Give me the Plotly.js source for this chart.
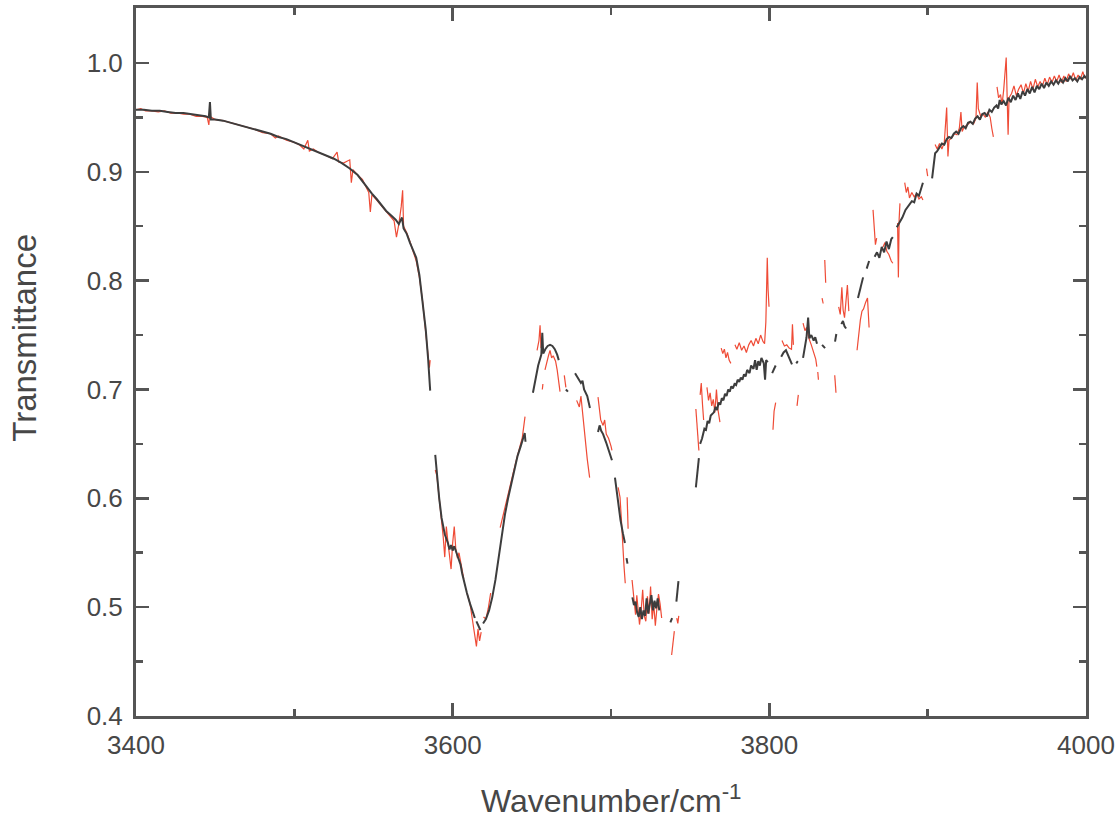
<!DOCTYPE html>
<html>
<head>
<meta charset="utf-8">
<script src="https://cdn.plot.ly/plotly-3.0.1.min.js"></script>
<style>html,body{margin:0;padding:0;background:#fff;}#chart{width:1120px;height:819px;}</style>
</head>
<body>
<div id="chart"></div>
<script>
// Reference spectrum (black): [wavenumber, transmittance]; null = gap
const blackPoints = [
[3400,0.957],[3405,0.957],[3410,0.956],[3415,0.956],[3420,0.955],[3425,0.954],[3430,0.954],[3435,0.953],[3440,0.952],[3444,0.951],[3446,0.950],[3446.7,0.964],[3447.3,0.948],[3450,0.948],[3455,0.947],[3460,0.945],[3465,0.943],[3470,0.941],[3475,0.939],[3480,0.937],[3485,0.935],[3490,0.932],[3495,0.930],[3500,0.927],[3505,0.924],[3510,0.921],[3515,0.918],[3520,0.915],[3525,0.912],[3530,0.908],[3535,0.903],[3540,0.897],[3543,0.891],[3546,0.886],[3549,0.880],[3552,0.875],[3555,0.869],[3558,0.864],[3561,0.860],[3564,0.856],[3566,0.852],[3568,0.858],[3569,0.848],[3571,0.843],[3573,0.835],[3575,0.828],[3577,0.821],[3579,0.805],[3581,0.782],[3583,0.755],[3584.5,0.728],[3585.8,0.699],
null,
[3589,0.640],[3590,0.622],[3591.5,0.600],[3593,0.582],[3595,0.567],[3597,0.559],[3598,0.553],[3599,0.557],[3600,0.552],[3601,0.556],[3603,0.548],[3605,0.539],[3606,0.531],[3607,0.524],[3609,0.513],[3611,0.503],[3613,0.494],[3614,0.490],
null,
[3615,0.487],[3616.5,0.482],[3617.5,0.479],
null,
[3619.2,0.485],[3621,0.489],[3623,0.497],[3625,0.509],[3627,0.525],[3629,0.545],[3631,0.567],[3633,0.585],[3635,0.600],[3637,0.614],[3639,0.627],[3641,0.639],[3643,0.648],[3644.5,0.656],[3645.5,0.660],[3646,0.652],
null,
[3650.7,0.697],[3652,0.708],[3654,0.722],[3656,0.732],[3656.6,0.752],[3657.2,0.733],[3658.5,0.737],[3660,0.740],[3661.5,0.741],[3663,0.740],[3664.5,0.737],[3666,0.732],[3667,0.727],
null,
[3671.5,0.700],[3672.8,0.698],
null,
[3677.3,0.715],[3679,0.711],[3681,0.706],[3682,0.708],[3683,0.700],[3685,0.694],[3686.7,0.683],
null,
[3691.8,0.661],[3692.8,0.667],[3693.8,0.662],[3695,0.659],[3697,0.651],[3699,0.643],[3700.6,0.635],
null,
[3702.5,0.619],[3704,0.602],[3706,0.580],[3707.5,0.568],[3708.8,0.559],
null,
[3709.8,0.545],[3710.4,0.540],
null,
[3713.5,0.509],[3714.5,0.502],[3715.5,0.505],[3716.5,0.495],[3717.5,0.491],[3718.5,0.500],[3719.5,0.489],[3720.5,0.497],[3721.5,0.492],[3722.5,0.508],[3723.5,0.494],[3724.5,0.502],[3725.5,0.511],[3726.5,0.497],[3727.5,0.506],[3728.5,0.499],[3729.5,0.508],[3730.5,0.497],
null,
[3737.5,0.486],[3738.6,0.490],
null,
[3741.3,0.505],[3742,0.515],[3742.6,0.524],
null,
[3753.6,0.610],[3754.6,0.622],[3755.5,0.637],
null,
[3756.3,0.650],[3757.5,0.655],[3759,0.664],[3760,0.663],[3761,0.671],[3762,0.669],[3763,0.676],[3765,0.679],[3766,0.684],[3767,0.681],[3768,0.688],[3769,0.686],[3770,0.692],[3771,0.690],[3772,0.696],[3773,0.694],[3774,0.700],[3775,0.698],[3776,0.703],[3777,0.701],[3778,0.705],[3779,0.704],[3780,0.709],[3781,0.707],[3782,0.711],[3783,0.709],[3784,0.714],[3785,0.712],[3786,0.718],[3787.5,0.715],[3788.5,0.722],[3790,0.719],[3791,0.727],[3792,0.718],[3793,0.726],[3794,0.722],[3795,0.729],[3796.5,0.724],[3797.3,0.709],[3798,0.727],[3799,0.725],
null,
[3801.8,0.715],[3803,0.719],[3804,0.722],
null,
[3807.5,0.730],[3809,0.734],[3810.5,0.736],[3812,0.731],[3813,0.727],[3814.3,0.723],
null,
[3817,0.724],[3818,0.726],
null,
[3821.3,0.729],[3822.5,0.738],[3823.5,0.748],[3824.5,0.766],[3825.3,0.747],[3826.5,0.750],[3828,0.745],[3829,0.748],[3830.1,0.742],
null,
[3833.3,0.741],[3835.2,0.738],
null,
[3841.5,0.744],[3842.3,0.751],
null,
[3845.5,0.760],[3846.5,0.763],[3847.5,0.758],[3848.5,0.756],
null,
[3856,0.784],[3857.5,0.794],[3859.2,0.803],
null,
[3861.5,0.811],[3863,0.818],
null,
[3866.5,0.822],[3868,0.826],[3869.5,0.821],[3871,0.831],[3872.5,0.826],[3874,0.836],[3875.5,0.829],[3877,0.838],[3878,0.840],
null,
[3880.5,0.849],[3882,0.853],[3884,0.858],[3886,0.865],[3888,0.869],[3890,0.873],[3891.5,0.872],[3893,0.880],[3894.5,0.878],[3896,0.886],[3897,0.890],
null,
[3902.8,0.894],[3903.7,0.906],[3904.7,0.917],[3906,0.919],[3907.5,0.922],[3909,0.926],[3910.5,0.925],[3912,0.930],[3913.5,0.932],[3915,0.931],[3916.5,0.935],[3918,0.937],[3919.5,0.935],[3921,0.940],[3922.5,0.942],[3924,0.940],[3925.5,0.945],[3927,0.946],[3928.5,0.944],[3930,0.949],[3931.5,0.951],[3933,0.948],[3934.5,0.953],[3936,0.954],[3937.5,0.951],[3939,0.957],[3940.5,0.955],[3942,0.959],[3943.5,0.961],[3944.5,0.958],[3945.5,0.966],[3946.5,0.962],[3948,0.965],[3949.5,0.961],[3951,0.968],[3952.5,0.964],[3954,0.970],[3955.5,0.966],[3957,0.972],[3958.5,0.967],[3960,0.974],[3961.5,0.970],[3963,0.976],[3964.5,0.972],[3966,0.978],[3967.5,0.973],[3969,0.979],[3970.5,0.976],[3972,0.981],[3973.5,0.977],[3975,0.982],[3976.5,0.979],[3978,0.983],[3979.5,0.980],[3981,0.984],[3982.5,0.981],[3984,0.985],[3985.5,0.982],[3987,0.986],[3988.5,0.983],[3990,0.988],[3991.5,0.984],[3993,0.986],[3994.5,0.983],[3996,0.987],[3997.5,0.985],[3999,0.988],[4000,0.986]
];

// Sample spectrum (red): [wavenumber, transmittance]; null = gap
const redPoints = [
[3400,0.957],[3403,0.958],[3406,0.956],[3410,0.956],[3414,0.955],[3418,0.956],[3422,0.954],[3426,0.954],[3430,0.953],[3434,0.953],[3438,0.951],[3442,0.951],[3445,0.950],[3446,0.943],[3446.5,0.951],[3450,0.948],[3455,0.947],[3460,0.945],[3465,0.943],[3470,0.941],[3475,0.939],[3480,0.936],[3485,0.935],[3488,0.931],[3490,0.933],[3495,0.929],[3500,0.927],[3503,0.925],[3506,0.921],[3508.5,0.929],[3509.5,0.919],[3512,0.921],[3515,0.918],[3520,0.915],[3524,0.912],[3527,0.918],[3528,0.909],[3531,0.908],[3535,0.911],[3536,0.890],[3537,0.902],[3540,0.897],[3543,0.893],[3545,0.887],[3547,0.881],[3548,0.863],[3549,0.879],[3552,0.874],[3555,0.869],[3558,0.863],[3561,0.859],[3563,0.855],[3564.5,0.840],[3566,0.852],[3567.5,0.868],[3568.4,0.883],[3569,0.850],[3571,0.844],[3573,0.836],[3575,0.827],[3577,0.818],[3579,0.803],[3581,0.781],[3583,0.752],[3584.5,0.734],[3585.3,0.720],[3585.8,0.727],
null,
[3589,0.626],[3590,0.621],[3591.5,0.600],[3593,0.580],[3594,0.565],[3595,0.546],[3596,0.574],[3597,0.560],[3598,0.544],[3599,0.535],[3600,0.559],[3601,0.574],[3602,0.553],[3603,0.545],[3604,0.550],[3606,0.533],[3607,0.526],
null,
[3609,0.513],[3611,0.503],[3612,0.493],[3613,0.484],[3614,0.474],[3615,0.464],[3616,0.480],[3617,0.469],[3618,0.477],
null,
[3619.5,0.491],[3621,0.489],[3622.5,0.499],[3624,0.513],
null,
[3630,0.573],[3632,0.586],[3634,0.598],[3636,0.610],[3638,0.622],[3640,0.634],[3642,0.646],[3644,0.656],[3645.7,0.675],
null,
[3653.3,0.736],[3654.5,0.745],[3655.2,0.759],[3655.8,0.738],
null,
[3656.6,0.700],[3657,0.705],
null,
[3658.3,0.718],[3659.5,0.727],[3660.5,0.731],[3661.5,0.736],[3662.5,0.729],[3663.5,0.731],[3665,0.726],[3666,0.718],[3667,0.706],[3667.8,0.698],
null,
[3670.5,0.713],[3671.5,0.702],
null,
[3678.3,0.690],[3679.2,0.686],[3680,0.684],[3681,0.694],[3682,0.679],[3683,0.665],[3684,0.650],[3685,0.636],[3686.5,0.619],
null,
[3691.8,0.693],[3692.5,0.682],[3693.5,0.672],[3695,0.667],[3696,0.672],[3697,0.659],[3698.5,0.655],[3700,0.648],[3700.6,0.644],
null,
[3704.5,0.610],[3705.7,0.601],[3706.5,0.582],[3707.3,0.556],[3708.2,0.538],[3709,0.522],
null,
[3710.2,0.601],[3710.8,0.572],
null,
[3713.3,0.525],[3714,0.512],[3714.8,0.500],[3715.5,0.493],[3716.3,0.511],[3717,0.497],[3718,0.484],[3719,0.496],[3720,0.516],[3721,0.492],[3722,0.487],[3723,0.510],[3724,0.494],[3725,0.519],[3726,0.489],[3727,0.503],[3728,0.483],[3729,0.499],[3730,0.512],[3731,0.503],[3732,0.490],
null,
[3738.3,0.456],[3739.2,0.467],[3740,0.478],
null,
[3741.5,0.490],[3742.2,0.485],[3742.8,0.492],
null,
[3753.6,0.682],[3754.5,0.664],[3755.5,0.644],
null,
[3756.3,0.695],[3757,0.706],[3757.8,0.686],[3758.5,0.672],
null,
[3760.6,0.702],[3761.6,0.690],[3762.6,0.697],[3763.6,0.685],[3764.6,0.691],[3765.6,0.679],[3766.6,0.700],[3767.5,0.682],[3768.8,0.670],
null,
[3769.6,0.738],[3770.6,0.733],[3771.6,0.737],[3772.6,0.729],[3773.6,0.734],[3774.6,0.727],[3775.7,0.724],
null,
[3778.3,0.741],[3779.5,0.737],[3781,0.743],[3782.5,0.736],[3784,0.740],[3785.5,0.734],[3787,0.741],[3788.5,0.745],[3790,0.740],[3791.5,0.747],[3793,0.742],[3794.5,0.750],[3796,0.744],[3797,0.742],[3797.8,0.762],[3798.3,0.800],[3798.7,0.821],[3799.2,0.792],[3799.8,0.776],
null,
[3802.3,0.663],[3803,0.680],[3804,0.688],
null,
[3808,0.745],[3809.5,0.740],[3811,0.741],[3812.5,0.738],[3814,0.737],[3814.6,0.760],[3815.2,0.741],
null,
[3817.5,0.685],[3818.3,0.695],
null,
[3821.3,0.761],[3822.5,0.754],[3823.5,0.757],[3825,0.747],[3826.5,0.741],[3828,0.733],[3829.3,0.728],[3830,0.721],
null,
[3830.6,0.716],[3831,0.709],
null,
[3833.3,0.784],[3834,0.779],
null,
[3835,0.819],[3835.6,0.798],
null,
[3841.3,0.713],[3842.1,0.697],
null,
[3843.8,0.776],[3844.8,0.769],[3845.8,0.794],[3846.6,0.773],[3847.5,0.766],[3848.5,0.783],[3849.3,0.796],[3850.2,0.772],
null,
[3855.4,0.736],[3856.5,0.754],[3857.5,0.764],[3858.5,0.772],[3859.5,0.774],[3860.8,0.780],[3862,0.784],[3863,0.757],
null,
[3865.5,0.865],[3866.4,0.846],[3867,0.833],[3867.8,0.839],
null,
[3871.8,0.831],[3873,0.835],[3874.2,0.827],[3875.5,0.824],[3877,0.818],[3878,0.816],
null,
[3881,0.853],[3881.5,0.803],[3882,0.857],[3882.5,0.871],
null,
[3885.5,0.890],[3886.5,0.881],[3887.5,0.886],[3888.5,0.876],[3890,0.881],[3891.5,0.877],[3893,0.880],[3894.5,0.875],[3896,0.877],[3897,0.874],
null,
[3899.3,0.903],[3900,0.896],
null,
[3904.7,0.925],[3906,0.921],[3907.5,0.926],[3909,0.921],[3910.5,0.927],[3911.3,0.945],[3912,0.959],[3912.8,0.914],[3913.5,0.929],[3915,0.931],[3917,0.935],[3918.5,0.934],[3920,0.940],[3921,0.955],[3921.8,0.937],[3923,0.941],[3925,0.943],[3927,0.946],[3929,0.944],[3930.5,0.949],[3931.3,0.982],[3932,0.958],[3933.5,0.951],[3935,0.953],[3936.5,0.950],[3938,0.955],[3939.5,0.950],[3940.5,0.940],[3941.5,0.932],
null,
[3943.8,0.978],[3944.8,0.968],[3946,0.971],[3947,0.962],[3948,0.975],[3949,0.990],[3949.6,1.005],[3950.2,0.969],[3950.8,0.934],[3951.4,0.968],[3953,0.972],[3954.5,0.979],[3956,0.970],[3957.5,0.976],[3959,0.980],[3960.5,0.972],[3962,0.981],[3963.5,0.974],[3965,0.983],[3966.5,0.976],[3968,0.985],[3969.5,0.978],[3971,0.983],[3972.5,0.979],[3974,0.986],[3975.5,0.980],[3977,0.987],[3978.5,0.982],[3980,0.988],[3981.5,0.983],[3983,0.989],[3984.5,0.982],[3986,0.988],[3987.5,0.983],[3989,0.990],[3990.5,0.985],[3992,0.991],[3993.5,0.984],[3995,0.989],[3996.5,0.985],[3998,0.992],[3999.2,0.986],[4000,0.988]
];

const xTickVals = [3400, 3600, 3800, 4000];
const yTickVals = [0.4, 0.5, 0.6, 0.7, 0.8, 0.9, 1.0];

function toXY(points) {
  const x = [], y = [];
  points.forEach(p => {
    if (p === null) { x.push(null); y.push(null); }
    else { x.push(p[0]); y.push(p[1]); }
  });
  return {x, y};
}

const red = toXY(redPoints);
const black = toXY(blackPoints);

const axisColor = '#555555';
const textColor = '#474747';
const fontFam = 'Liberation Sans, Arial, sans-serif';

const traces = [
  {x: red.x, y: red.y, type: 'scatter', mode: 'lines', connectgaps: false,
   line: {color: '#ef4b36', width: 1.2}, hoverinfo: 'skip', showlegend: false},
  {x: black.x, y: black.y, type: 'scatter', mode: 'lines', connectgaps: false,
   line: {color: '#3d3d3d', width: 2}, hoverinfo: 'skip', showlegend: false}
];

const layout = {
  width: 1120, height: 819,
  margin: {l: 136, r: 34, t: 8, b: 103},
  paper_bgcolor: '#ffffff', plot_bgcolor: '#ffffff',
  showlegend: false,
  font: {family: fontFam, color: textColor, size: 26},
  xaxis: {
    range: [3400, 4000], tickvals: xTickVals, ticktext: xTickVals.map(String),
    showgrid: false, zeroline: false,
    showline: true, linecolor: axisColor, linewidth: 3, mirror: 'ticks',
    ticks: 'inside', ticklen: 13, tickwidth: 2.5, tickcolor: axisColor,
    minor: {dtick: 100, tick0: 3400, ticks: 'inside', ticklen: 7, tickwidth: 2.5, tickcolor: axisColor, showgrid: false},
    tickfont: {family: fontFam, size: 26, color: textColor},
    ticklabelstandoff: 4
  },
  yaxis: {
    range: [0.4, 1.0505], tickvals: yTickVals, ticktext: yTickVals.map(v => v.toFixed(1)),
    showgrid: false, zeroline: false,
    showline: true, linecolor: axisColor, linewidth: 3, mirror: 'ticks',
    ticks: 'inside', ticklen: 13, tickwidth: 2.5, tickcolor: axisColor,
    minor: {dtick: 0.05, tick0: 0.4, ticks: 'inside', ticklen: 7, tickwidth: 2.5, tickcolor: axisColor, showgrid: false},
    tickfont: {family: fontFam, size: 26, color: textColor},
    ticklabelstandoff: 5
  },
  annotations: [
    {text: 'Wavenumber/cm<sup>-1</sup>', xref: 'paper', yref: 'paper',
     x: 0.5, y: -0.117, xanchor: 'center', yanchor: 'middle', showarrow: false,
     font: {family: fontFam, size: 32, color: textColor}},
    {text: 'Transmittance', xref: 'paper', yref: 'paper', textangle: -90,
     x: -0.117, y: 0.534, xanchor: 'center', yanchor: 'middle', showarrow: false,
     font: {family: fontFam, size: 33, color: textColor}}
  ]
};

Plotly.newPlot('chart', traces, layout, {staticPlot: true, displayModeBar: false});
</script>
</body>
</html>
